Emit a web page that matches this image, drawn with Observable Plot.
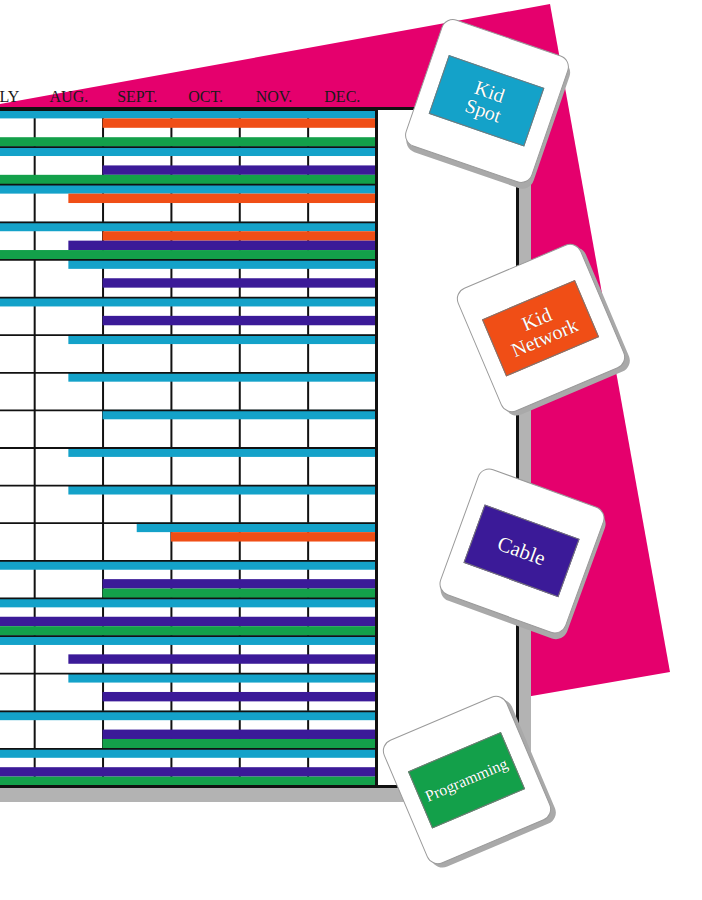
<!DOCTYPE html>
<html>
<head>
<meta charset="utf-8">
<script src="https://cdn.jsdelivr.net/npm/d3@7"></script>
<script src="https://cdn.jsdelivr.net/npm/@observablehq/plot@0.6"></script>
<style>
  html, body { margin: 0; padding: 0; background: #fff; }
  #wrap { position: relative; width: 702px; height: 900px; overflow: hidden; background: #fff; }
  #pink { position: absolute; left: 0; top: 0; width: 702px; height: 900px; background: #e5006d;
          clip-path: polygon(0px 104px, 550px 4px, 670px 672px, 520px 698px, 0px 698px); }
  #shadow { position: absolute; left: -4px; top: 121px; width: 535px; height: 681px; background: #b3b3b3; }
  #panel { position: absolute; left: -4px; top: 107px; width: 523px; height: 681px; box-sizing: border-box;
           border: 3px solid #111; background: #fff; }
  #chart { position: absolute; left: 0; top: 0; }
  .card { position: absolute; width: 134px; height: 134px; box-sizing: border-box; background: #fff;
          border: 1.5px solid #9a9a9a; border-radius: 12px; box-shadow: 3px 5px 0 #a9a9a9; }
  .inner { position: absolute; left: 15px; top: 35px; width: 101px; height: 62px; box-sizing: border-box;
           border: 1px solid #777; display: flex; align-items: center; justify-content: center; text-align: center;
           color: #fff; font-family: "Liberation Serif", "DejaVu Serif", serif; line-height: 1.0;
           text-shadow: 0 0 1px rgba(0,0,0,0.35); }
</style>
</head>
<body>
<div id="wrap">
  <div id="pink"></div>
  <div id="shadow"></div>
  <div id="panel"></div>
  <div id="chart"></div>
</div>
<script>
// ---- data ----
const months = ["JULY", "AUG.", "SEPT.", "OCT.", "NOV.", "DEC."];
const monthCenters = [6.5, 7.5, 8.5, 9.5, 10.5, 11.5];   // month index, Jan = 0
const monthStarts = [7, 8, 9, 10, 11];                    // Aug .. Dec boundaries
const endMonth = 12;                                      // end of December
const services = ["Kid Spot", "Kid Network", "Cable", "Programming"];
const serviceColors = ["#14a2c9", "#f04e16", "#3b1a98", "#13a04a"];
// start month of each service bar per chart row (null = no bar); 0 = runs from before July
const kidSpot     = [0, 0, 0, 0, 7.5, 0, 7.5, 7.5, 8, 7.5, 7.5, 8.5, 0, 0, 0, 7.5, 0, 0];
const kidNetwork  = [8, null, 7.5, 8, null, null, null, null, null, null, null, 9, null, null, null, null, null, null];
const cable       = [null, 8, null, 7.5, 8, 8, null, null, null, null, null, null, 8, 0, 7.5, 8, 8, 0];
const programming = [0, 0, null, 0, null, null, null, null, null, null, null, null, 8, 0, null, null, 8, 0];

const rowCount = kidSpot.length;
const starts = [kidSpot, kidNetwork, cable, programming];
const bars = [];
for (let r = 0; r < rowCount; r++) {
  starts.forEach((arr, s) => {
    if (arr[r] !== null) bars.push({row: r, slot: s, service: services[s], start: arr[r], end: endMonth,
                                    y1: r * 4 + s, y2: r * 4 + s + 1});
  });
}
const rowLines = d3.range(1, rowCount).map(r => r * 4);
const monthLabels = months.map((m, i) => ({label: m, x: monthCenters[i]}));

const chart = Plot.plot({
  width: 702, height: 900,
  marginLeft: 0, marginRight: 326, marginTop: 109, marginBottom: 114,
  x: {domain: [6.5, endMonth], axis: null},
  y: {domain: [0, rowCount * 4], reverse: true, axis: null},
  color: {domain: services, range: serviceColors},
  style: {background: "transparent"},
  marks: [
    Plot.ruleX(monthStarts, {stroke: "#111", strokeWidth: 2}),
    Plot.rect(bars, {x1: "start", x2: "end", y1: "y1", y2: "y2", fill: "service", clip: true}),
    Plot.ruleY(rowLines, {stroke: "#111", strokeWidth: 1.8}),
    Plot.ruleY([0, rowCount * 4], {stroke: "#111", strokeWidth: 3}),
    Plot.ruleX([endMonth], {stroke: "#111", strokeWidth: 3}),
    Plot.text(monthLabels, {x: "x", text: "label", frameAnchor: "top", dy: -19,
      fontFamily: "Liberation Serif, DejaVu Serif, serif", fontSize: 16, fill: "#1a1a1a"})
  ]
});
document.getElementById("chart").appendChild(chart);

// ---- legend cards ----
const cardLayout = [
  {cx: 487, cy: 101, rot: 19, size: 20, text: "Kid<br>Spot"},
  {cx: 541, cy: 328, rot: -23, size: 20, text: "Kid<br>Network"},
  {cx: 522, cy: 551, rot: 20, size: 21, text: "Cable"},
  {cx: 467, cy: 780, rot: -23, size: 16, text: "Programming"}
];
const wrap = document.getElementById("wrap");
services.forEach((s, i) => {
  const L = cardLayout[i];
  const card = document.createElement("div");
  card.className = "card";
  card.style.left = (L.cx - 67) + "px";
  card.style.top = (L.cy - 67) + "px";
  card.style.transform = `rotate(${L.rot}deg)`;
  const inner = document.createElement("div");
  inner.className = "inner";
  inner.style.background = serviceColors[i];
  inner.style.fontSize = L.size + "px";
  inner.innerHTML = L.text;
  card.appendChild(inner);
  wrap.appendChild(card);
});
</script>
</body>
</html>
